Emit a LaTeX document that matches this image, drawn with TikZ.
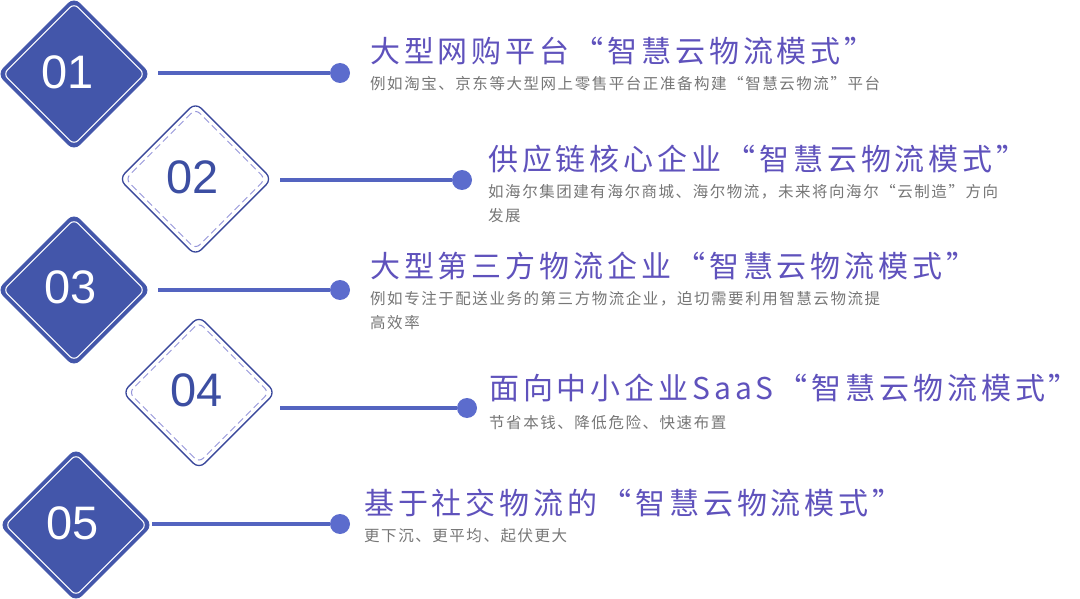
\documentclass[tikz,border=0pt]{standalone}
\usepackage{fontspec}
\setmainfont{Liberation Sans}
\newfontfamily\titlefont[LetterSpace=13]{Noto Sans CJK SC}
\newfontfamily\notefont[LetterSpace=10]{Noto Sans CJK SC}
\newfontfamily\numfont{Liberation Sans}
\usepackage{tikz}
\usetikzlibrary{positioning}

\definecolor{boxblue}{RGB}{67,86,170}
\definecolor{edgeblue}{RGB}{58,72,155}
\definecolor{dashblue}{RGB}{150,150,218}
\definecolor{numblue}{RGB}{60,78,162}
\definecolor{lineblue}{RGB}{84,100,192}
\definecolor{dotblue}{RGB}{92,108,205}
\definecolor{titlepurple}{RGB}{95,82,188}
\definecolor{notegray}{RGB}{118,118,118}

\begin{document}
\begin{tikzpicture}[
  x=1pt, y=-1pt,
  solidbox/.style={rotate=45, minimum size=108pt, inner sep=0pt, rounded corners=8pt, fill=boxblue, draw=boxblue, line width=0.8pt},
  solidring/.style={rotate=45, minimum size=100pt, inner sep=0pt, rounded corners=6pt, draw=white, line width=1.1pt},
  openbox/.style={rotate=45, minimum size=108pt, inner sep=0pt, rounded corners=8pt, draw=edgeblue, line width=1.3pt},
  openring/.style={rotate=45, minimum size=99pt, inner sep=0pt, rounded corners=6pt, draw=dashblue, line width=1pt, dash pattern=on 7pt off 4pt},
  numsolid/.style={inner sep=0pt, text=white, font=\numfont\fontsize{47}{47}\selectfont},
  numopen/.style={inner sep=0pt, text=numblue, font=\numfont\fontsize{47}{47}\selectfont},
  dot/.style={circle, fill=dotblue, minimum size=20pt, inner sep=0pt},
  link/.style={draw=lineblue, line width=3.5pt},
  heading/.style={anchor=base west, inner sep=0pt, text=titlepurple, font=\titlefont\fontsize{30}{33}\selectfont},
  note/.style={anchor=base west, inner sep=0pt, text=notegray, font=\notefont\fontsize{15.5}{24}\selectfont}
]
\useasboundingbox (0,0) rectangle (1080,599);

\node[solidbox] (d1) at (74,74) {};
\node[solidring] (r1) at (d1) {};
\node[openbox] (d2) at (195.5,179) {};
\node[openring] (r2) at (d2) {};
\node[solidbox] (d3) at (74,290) {};
\node[solidring] (r3) at (d3) {};
\node[openbox] (d4) at (199,392.5) {};
\node[openring] (r4) at (d4) {};
\node[solidbox] (d5) at (76,525) {};
\node[solidring] (r5) at (d5) {};

\node[numsolid] (n1) at (68,72) {01};
\node[numopen] (n2) at (193,177) {02};
\node[numsolid] (n3) at (71,287) {03};
\node[numopen] (n4) at (197,390) {04};
\node[numsolid] (n5) at (73,523) {05};

\coordinate (s1) at (158,73);
\coordinate (s2) at (280,180);
\coordinate (s3) at (158,290);
\coordinate (s4) at (280,408);
\coordinate (s5) at (152,524);
\node[dot] (p1) at (340,73) {};
\node[dot] (p2) at (462,180) {};
\node[dot] (p3) at (340,290) {};
\node[dot] (p4) at (467,408) {};
\node[dot] (p5) at (340,524) {};

\draw[link] (s1) -- (p1);
\draw[link] (s2) -- (p2);
\draw[link] (s3) -- (p3);
\draw[link] (s4) -- (p4);
\draw[link] (s5) -- (p5);

\node[heading] (t1) at (370,63) {大型网购平台“智慧云物流模式”};
\node[note] (c1) at (370,90) {例如淘宝、京东等大型网上零售平台正准备构建“智慧云物流”平台};
\node[heading] (t2) at (488,171) {供应链核心企业“智慧云物流模式”};
\node[note] (c2) at (488,198) {如海尔集团建有海尔商城、海尔物流，未来将向海尔“云制造”方向};
\node[note] (c2b) at (488,222) {发展};
\node[heading] (t3) at (370,277) {大型第三方物流企业“智慧云物流模式”};
\node[note] (c3) at (370,304) {例如专注于配送业务的第三方物流企业，迫切需要利用智慧云物流提};
\node[note] (c3b) at (370,328) {高效率};
\node[heading] (t4) at (489,399) {面向中小企业SaaS“智慧云物流模式”};
\node[note] (c4) at (489,428) {节省本钱、降低危险、快速布置};
\node[heading] (t5) at (364,514) {基于社交物流的“智慧云物流模式”};
\node[note] (c5) at (364,541) {更下沉、更平均、起伏更大};
\end{tikzpicture}
\end{document}
